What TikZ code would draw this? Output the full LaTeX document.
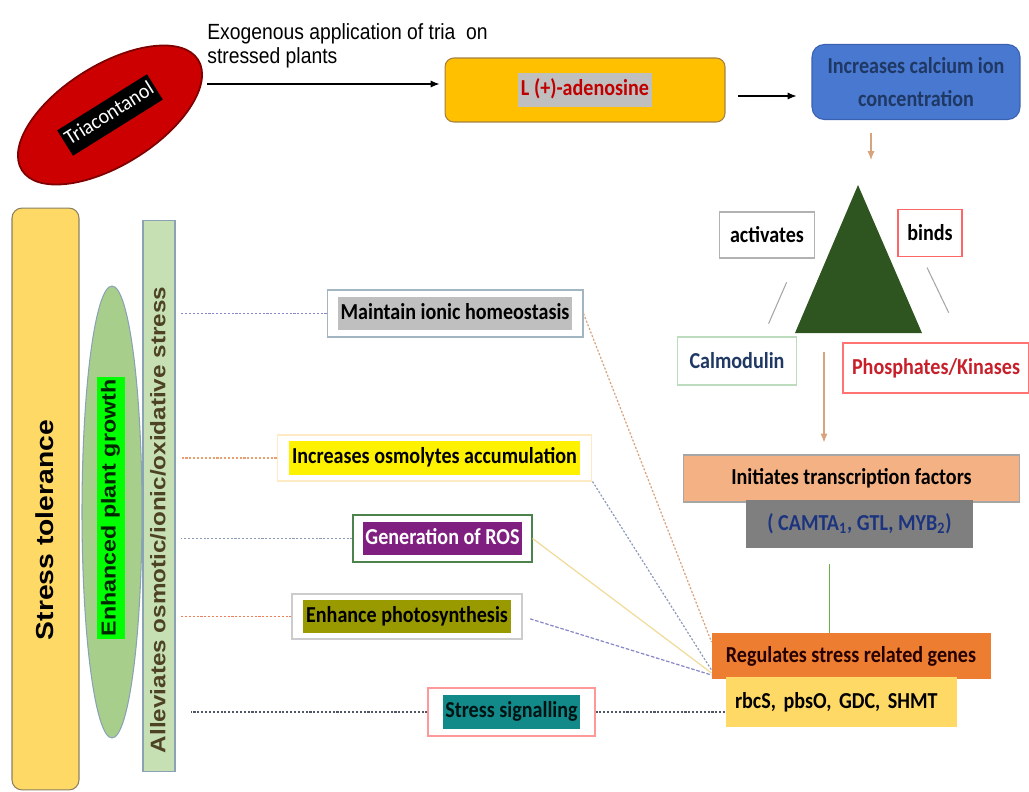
\documentclass[tikz,border=0pt]{standalone}
\usepackage{fontspec}
\setmainfont{Carlito}[FakeStretch=0.88]
\newfontfamily\arialh{Liberation Sans}[FakeStretch=0.88]
\newfontfamily\arialv{Liberation Sans}[FakeStretch=1.15]
\newfontfamily\calr{Carlito}[FakeStretch=0.95]
\usetikzlibrary{shapes.geometric,arrows.meta}
\definecolor{triared}{HTML}{CC0000}
\definecolor{triaedge}{HTML}{7F0000}
\definecolor{adenofill}{HTML}{FFC000}
\definecolor{adenoedge}{HTML}{A58040}
\definecolor{adenored}{HTML}{C00000}
\definecolor{hlgray}{HTML}{BFBFBF}
\definecolor{calcfill}{HTML}{4878CF}
\definecolor{calcedge}{HTML}{3A62B0}
\definecolor{navytxt}{HTML}{1F3864}
\definecolor{trigreen}{HTML}{2E5520}
\definecolor{salmon}{HTML}{F4B183}
\definecolor{midgray}{HTML}{7F7F7F}
\definecolor{tfblue}{HTML}{1C3480}
\definecolor{regorange}{HTML}{ED7D31}
\definecolor{paleyellow}{HTML}{FFD966}
\definecolor{toledge}{HTML}{8C8060}
\definecolor{leafgreen}{HTML}{A8CE8C}
\definecolor{palegreen}{HTML}{C6E0B4}
\definecolor{edgeblue}{HTML}{8AA2B4}
\definecolor{rospurple}{HTML}{7F1F7F}
\definecolor{olivehl}{HTML}{999900}
\definecolor{tealhl}{HTML}{138A8A}
\definecolor{phosred}{HTML}{C8202A}
\definecolor{allevtxt}{HTML}{4E4224}
\definecolor{linkblue}{HTML}{8888C8}
\definecolor{linkorange}{HTML}{E8A070}
\definecolor{linkgray}{HTML}{8C9CB8}
\definecolor{linktan}{HTML}{D9A27A}
\definecolor{linkyellow}{HTML}{F0DC98}
\definecolor{linkdark}{HTML}{505868}
\definecolor{tanarrow}{HTML}{D8A47E}
\definecolor{stemgreen}{HTML}{6AAE45}
\newcommand{\fs}{\fontsize{13}{16}\selectfont}
\newcommand{\hl}[2]{\colorbox{#1}{\strut #2}}
\setlength{\fboxsep}{1.5pt}
\tikzset{
	box/.style 2 args={rectangle,draw=#1,fill=#2,font=\fs\bfseries,line width=0.6pt,inner sep=2pt},
	rbox/.style 2 args={rectangle,rounded corners=5pt,draw=#1,fill=#2,font=\fs\bfseries,line width=0.6pt},
	link/.style={line width=0.7pt,dash pattern=on 1.2pt off 1pt},
	arr/.style={-{Latex[length=5pt,width=4pt]},line width=0.6pt}
}
\begin{document}
\begin{tikzpicture}[x=0.02cm,y=-0.02cm]
	\useasboundingbox (0,0) rectangle (1029,792);

	\node [ellipse,draw=triaedge,line width=1pt,fill=triared,rotate=32,minimum width=4.16cm,minimum height=2cm,font=\calr\fontsize{12}{14}\selectfont] (tria) at (110,115) {\hl{black}{\textcolor{white}{Triacontanol}}};
	\node [anchor=north west,inner sep=0pt,align=left,font=\arialh\fontsize{12.5}{14}\selectfont] (exo) at (207,23) {Exogenous application of tria\ \ on\\stressed plants};
	\node [rbox={adenoedge}{adenofill},minimum width=5.6cm,minimum height=1.28cm] (adeno) at (585,90) {\hl{hlgray}{\textcolor{adenored}{L (+)-adenosine}}};
	\node [rbox={calcedge}{calcfill},rounded corners=7pt,minimum width=4.16cm,minimum height=1.5cm,align=center,text=navytxt,font=\bfseries\fontsize{13}{19}\selectfont] (calc) at (916,82) {Increases calcium ion\\concentration};

	\coordinate (exostart) at (207,84);
	\draw [arr,shorten >=0.1cm] (exostart) -- (exostart -| adeno.west);
	\draw [arr,shorten <=0.24cm,shorten >=0.3cm] ([yshift=-0.12cm]adeno.east) -- ([yshift=-0.12cm]adeno.east -| calc.west);

	\coordinate (triA) at (858,185);
	\coordinate (triL) at (795,333);
	\coordinate (triR) at (922,333);
	\fill [trigreen] (triA) -- (triR) -- (triL) -- cycle;
	\coordinate (capin) at (871,160);
	\draw [arr,tanarrow,shorten <=0.26cm] (calc.south -| capin) -- (capin);

	\node [box={gray!60}{white},minimum width=1.9cm,minimum height=0.92cm] (act) at (767,235) {activates};
	\node [box={red!60}{white},minimum width=1.28cm,minimum height=0.94cm] (binds) at (930,233) {binds};
	\node [box={green!30!gray!40}{white},minimum width=2.38cm,minimum height=0.96cm,text=navytxt] (calm) at (737,361) {Calmodulin};
	\node [box={red!55}{white},minimum width=3.72cm,minimum height=1cm,text=phosred] (phos) at (936,368) {Phosphates/Kinases};
	\draw [gray!70,line width=0.6pt,shorten <=0.52cm,shorten >=0.28cm] ([xshift=0.6cm]act.south) -- ([xshift=0.52cm]calm.north);
	\draw [gray!70,line width=0.6pt,shorten <=0.23cm,shorten >=0.66cm] ([xshift=-0.16cm]binds.south) -- ([xshift=0.54cm]phos.north);

	\node [box={gray!70}{salmon},minimum width=6.74cm,minimum height=0.94cm] (init) at (851.5,478.5) {Initiates transcription factors};
	\node [box={midgray}{midgray},minimum width=4.5cm,minimum height=0.92cm,text=tfblue] (camta) at (859.5,524) {( CAMTA\textsubscript{1}, GTL, MYB\textsubscript{2})};
	\node [box={regorange}{regorange},minimum width=5.56cm,minimum height=0.88cm,text=black!85!red] (regs) at (851,656) {Regulates stress related genes};
	\node [box={paleyellow}{paleyellow},text width=4.26cm,inner xsep=0.16cm,minimum height=0.96cm,align=left] (rbcs) at (841.5,702) {rbcS, pbsO, GDC, SHMT};
	\coordinate (triout) at (824,333);
	\draw [arr,tanarrow,shorten <=0.38cm,shorten >=0.24cm] (triout) -- (triout |- init.north);
	\draw [stemgreen,line width=1pt,shorten <=0.32cm] ([xshift=-0.6cm]camta.south) -- ([xshift=-0.6cm]camta.south |- regs.north);

	\node [rbox={toledge}{paleyellow},rounded corners=0.2cm,minimum width=1.34cm,minimum height=11.64cm] (stol) at (45.5,499) {};
	\node [rotate=90,font=\arialv\bfseries\fontsize{14}{16}\selectfont] (stoltxt) at (45,530) {Stress tolerance};
	\node [ellipse,draw=edgeblue,fill=leafgreen,line width=0.6pt,minimum width=1.2cm,minimum height=9.04cm] (grow) at (112,512) {};
	\node [rotate=90,font=\arialv\bfseries\fontsize{11.5}{13}\selectfont,text=black!85!green] (growtxt) at (111,508) {\hl{green}{Enhanced plant growth}};
	\node [box={edgeblue}{palegreen},minimum width=0.64cm,minimum height=11.04cm] (allev) at (159,496) {};
	\node [rotate=90,font=\arialv\bfseries\fontsize{12}{14}\selectfont,text=allevtxt] (allevtxt) at (158,520) {Alleviates osmotic/ionic/oxidative stress};

	\node [box={edgeblue!80}{white},minimum width=5.12cm,minimum height=0.94cm] (maint) at (455,313.5) {\hl{hlgray}{Maintain ionic homeostasis}};
	\node [box={yellow!30!orange!20}{white},minimum width=6.3cm,minimum height=0.92cm] (osmo) at (434.5,458) {\hl{yellow}{Increases osmolytes accumulation}};
	\node [box={green!30!black!70}{white},minimum width=3.58cm,minimum height=0.94cm] (ros) at (442.5,538.5) {\hl{rospurple}{\textcolor{white}{Generation of ROS}}};
	\node [box={gray!40}{white},minimum width=4.6cm,minimum height=0.9cm] (photo) at (407,616.5) {\hl{olivehl}{Enhance photosynthesis}};
	\node [box={red!40}{white},minimum width=3.34cm,minimum height=0.96cm] (sig) at (511.5,712) {\hl{tealhl}{\textcolor{black!85!teal}{Stress signalling}}};

	\draw [link,linkblue,shorten >=0.1cm] (maint.west) -- (maint.west -| allev.east);
	\draw [link,linkorange,shorten >=0.1cm] (osmo.west) -- (osmo.west -| allev.east);
	\draw [link,linkgray,shorten >=0.1cm] (ros.west) -- (ros.west -| allev.east);
	\draw [link,linkorange!80!red,shorten >=0.1cm] (photo.west) -- (photo.west -| allev.east);
	\draw [link,linkdark,shorten >=0.3cm] (sig.west) -- (sig.west -| allev.east);
	\draw [link,linkdark] (sig.east) -- (sig.east -| rbcs.west);

	\draw [link,linktan] (maint.east) -- ([yshift=0.28cm]regs.west);
	\draw [link,linkgray] (osmo.south east) -- ([yshift=-0.28cm]regs.west);
	\draw [linkyellow,line width=0.7pt] (ros.east) -- ([yshift=-0.34cm]regs.west);
	\draw [link,linkblue,dash pattern=on 2pt off 1pt,shorten <=0.16cm] (photo.east) -- ([yshift=-0.38cm]regs.west);
\end{tikzpicture}
\end{document}
